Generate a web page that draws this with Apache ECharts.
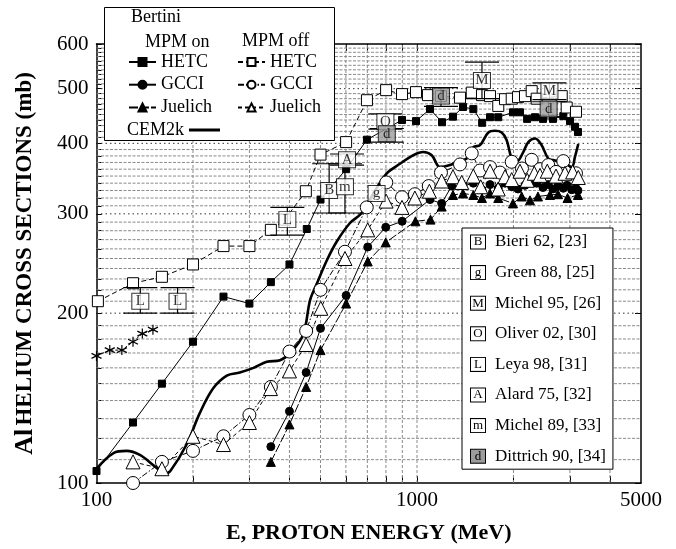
<!DOCTYPE html>
<html>
<head>
<meta charset="utf-8">
<script src="https://cdn.jsdelivr.net/npm/echarts@6/dist/echarts.min.js"></script>
<style>
  html, body { margin: 0; padding: 0; background: #fff; }
  #chart { width: 676px; height: 549px; }
</style>
</head>
<body>
<div id="chart"></div>
<script>
// Axis ticks and labels
const xLabelValues = [100, 1000, 5000];
const xTickValues = [200, 300, 400, 500, 600, 700, 800, 900, 1000, 2000, 3000, 4000];
const yLabelValues = [100, 200, 300, 400, 500, 600];

// Bertini INC, MPM on  [E (MeV), sigma (mb)]
const hetcOn = [[100,105],[130,128],[160,150],[200,178],[249,214],[300,208],[350,227],[400,244],[453,282],[500,318],[601,360],[698,406],[898,440],[993,438],[1098,460],[1197,436],[1295,446],[1392,464],[1499,460],[1597,435],[1690,445],[1793,445],[1993,454],[2096,454],[2206,442],[2335,445],[2472,442],[2657,442],[2861,447],[3002,438],[3112,428],[3179,419]];
const gcciOn = [[350,116],[400,134],[451,157],[500,188],[601,215],[702,262],[799,284],[899,291],[1098,318],[1194,313],[1283,336],[1392,336],[1499,340],[1595,331],[1690,338],[1793,333],[1882,340],[1975,335],[2066,332],[2173,337],[2280,345],[2363,340],[2472,334],[2568,338],[2657,332],[2754,336],[2861,333],[2938,337],[3039,331],[3134,333],[3179,330]];
const juelichOn = [[350,109],[400,127],[451,148],[500,172],[601,208],[702,247],[799,267],[989,291],[1102,293],[1194,309],[1295,324],[1392,326],[1499,324],[1595,320],[1690,326],[1793,320],[1993,313],[2122,322],[2252,317],[2385,322],[2600,324],[2754,325],[2950,320],[3179,324]];

// Bertini INC, MPM off
const hetcOff = [[101,210],[130,226],[160,232],[200,244],[249,263],[300,263],[350,281],[387,293],[450,329],[500,382],[601,402],[698,477],[801,497],[898,489],[993,493],[1082,487],[1188,485],[1362,482],[1482,492],[1595,487],[1690,485],[1793,466],[1882,479],[1975,480],[2066,483],[2173,485],[2280,495],[2363,480],[2829,485],[2932,463],[3134,455]];
const gcciOff = [[130,100],[160,109],[200,114],[249,121],[300,132],[350,148],[400,171],[451,186],[500,220],[596,257],[697,308],[802,341],[898,321],[985,325],[1088,336],[1188,355],[1362,367],[1482,384],[1573,358],[1690,363],[1816,355],[1975,371],[2126,361],[2280,374],[2420,360],[2568,366],[2715,356],[2861,372],[3134,354]];
const juelichOff = [[130,109],[160,106],[200,121],[249,117],[300,128],[349,147],[400,158],[451,176],[501,204],[596,250],[702,281],[801,316],[898,308],[985,320],[1093,329],[1194,343],[1295,349],[1379,341],[1499,350],[1581,335],[1690,357],[1793,332],[1882,349],[1975,345],[2096,357],[2208,344],[2323,354],[2420,351],[2550,357],[2715,350],[2896,354],[3060,356],[3186,348]];

// CEM2k
const cem2k = [[100,106],[113,113],[124,114],[137,112],[152,107],[164,104],[170,105],[191,117],[210,133],[231,147],[255,155],[280,157],[309,160],[340,164],[374,165],[402,170],[441,183],[464,211],[486,225],[523,248],[562,268],[618,289],[672,301],[748,333],[805,354],[885,368],[974,381],[1046,386],[1112,381],[1180,363],[1268,366],[1330,371],[1429,376],[1500,394],[1573,397],[1669,418],[1751,421],[1838,418],[1905,405],[1975,376],[2047,371],[2146,386],[2225,402],[2335,408],[2449,397],[2568,376],[2696,373],[2861,371],[3039,363],[3112,379],[3186,399]];

// Low-energy set drawn with asterisks
const asterisks = [[100,168],[110,172],[120,172],[130,178],[139,184],[150,187]];

// Measurements [E, sigma, low, high]
const bieri62 = [[532,330,301,368]];
const green88 = [[748,326]];
const michel95 = [[1595,517,480,557],[2590,495,478,512]];
const oliver02 = [[797,437,424,451]];
const leya98 = [[137,210,200,222],[179,210,200,222],[394,293,275,308]];
const alard75 = [[605,374,366,383]];
const michel89 = [[596,335,301,368]];
const dittrich90 = [[805,416,402,425],[1188,485,465,502],[2575,460,446,474]];

const measurements = [
  { name: 'Bieri 62, [23]', letter: 'B', data: bieri62 },
  { name: 'Green 88, [25]', letter: 'g', data: green88 },
  { name: 'Michel 95, [26]', letter: 'M', data: michel95 },
  { name: 'Oliver 02, [30]', letter: 'O', data: oliver02 },
  { name: 'Leya 98, [31]', letter: 'L', data: leya98 },
  { name: 'Alard 75, [32]', letter: 'A', data: alard75 },
  { name: 'Michel 89, [33]', letter: 'm', data: michel89 },
  { name: 'Dittrich 90, [34]', letter: 'd', data: dittrich90, gray: true }
];

const SERIF = '"Liberation Serif", "DejaVu Serif", serif';
const X_MIN = 100, X_MAX = 5000, Y_MIN = 100, Y_MAX = 600;

// Grid line positions: every 10 mb, and the decade subdivisions in energy
const yGrid = [];
for (let v = 110; v < Y_MAX; v += 10) yGrid.push(v);
const yMajor = [200, 300, 400, 500];

const chart = echarts.init(document.getElementById('chart'), null, { renderer: 'canvas' });

function gridLineSeries() {
  return [{
    type: 'custom', silent: true, z: 1, clip: true,
    data: yGrid.map(v => [X_MIN, v]),
    renderItem: (params, api) => {
      const v = api.value(1);
      const a = api.coord([X_MIN, v]);
      const b = api.coord([X_MAX, v]);
      const major = yMajor.indexOf(v) >= 0;
      return {
        type: 'line',
        shape: { x1: a[0], y1: a[1], x2: b[0], y2: b[1] },
        style: { stroke: major ? '#333' : '#8a8a8a', lineWidth: 1, lineDash: major ? [1.5, 3] : [3, 1.5] }
      };
    }
  }, {
    type: 'custom', silent: true, z: 1, clip: true,
    data: xTickValues.map(v => [v, Y_MIN]),
    renderItem: (params, api) => {
      const v = api.value(0);
      const a = api.coord([v, Y_MIN]);
      const b = api.coord([v, Y_MAX]);
      return {
        type: 'line',
        shape: { x1: a[0], y1: a[1], x2: b[0], y2: b[1] },
        style: { stroke: '#8a8a8a', lineWidth: 1, lineDash: [3, 2] }
      };
    }
  }];
}

function modelSeries(name, data, symbol, size, filled, lineType, z) {
  return {
    type: 'line', name, data, symbol, symbolSize: size, z,
    showAllSymbol: true,
    lineStyle: { color: '#000', width: 1, type: lineType },
    itemStyle: { color: filled ? '#000' : '#fff', borderColor: '#000', borderWidth: 1 },
    emphasis: { disabled: true }
  };
}

const errorBars = {
  type: 'custom', silent: true, z: 8,
  data: measurements.flatMap(m => m.data.filter(d => d.length === 4).map(d => [d[0], d[2], d[3]])),
  encode: { x: 0, y: [1, 2] },
  renderItem: (params, api) => {
    const e = api.value(0);
    const lo = api.coord([e, api.value(1)]);
    const hi = api.coord([e, api.value(2)]);
    const w = 17;
    const st = { stroke: '#000', lineWidth: 1.2 };
    return {
      type: 'group',
      children: [
        { type: 'line', shape: { x1: lo[0], y1: lo[1], x2: hi[0], y2: hi[1] }, style: st },
        { type: 'line', shape: { x1: lo[0] - w, y1: lo[1], x2: lo[0] + w, y2: lo[1] }, style: st },
        { type: 'line', shape: { x1: hi[0] - w, y1: hi[1], x2: hi[0] + w, y2: hi[1] }, style: st }
      ]
    };
  }
};

const measurementSeries = measurements.map(m => ({
  type: 'scatter', name: m.name, z: 10,
  data: m.data.map(d => [d[0], d[1]]),
  symbol: 'rect', symbolSize: [17, 16],
  itemStyle: { color: m.gray ? '#9c9c9c' : '#fff', borderColor: '#000', borderWidth: 1 },
  label: { show: true, position: 'inside', formatter: m.letter, color: '#000', fontFamily: SERIF, fontSize: 15 },
  emphasis: { disabled: true }
}));

const letterOf = {};
measurements.forEach(m => { letterOf[m.name] = m; });

const legendText = { fontFamily: SERIF, fontSize: 18, color: '#000', lineHeight: 18 };

const option = {
  animation: false,
  backgroundColor: '#fff',
  grid: { left: 96.5, right: 35, top: 44, bottom: 61, containLabel: false },
  xAxis: [{
    type: 'log', logBase: 10, min: X_MIN, max: X_MAX,
    name: 'E, PROTON ENERGY (MeV)', nameLocation: 'middle', nameGap: 39,
    nameTextStyle: { fontFamily: SERIF, fontSize: 22, fontWeight: 'bold', color: '#000' },
    axisLine: { lineStyle: { color: '#000', width: 1.5 } },
    axisTick: { inside: true, length: 7, customValues: xTickValues, lineStyle: { color: '#000' } },
    axisLabel: { customValues: xLabelValues, formatter: v => String(Math.round(v)), fontFamily: SERIF, fontSize: 21, color: '#000', margin: 7 },
    splitLine: { show: false }, minorTick: { show: false }
  }, {
    type: 'log', logBase: 10, min: X_MIN, max: X_MAX, position: 'top',
    axisLine: { lineStyle: { color: '#000', width: 1.5 } },
    axisTick: { inside: true, length: 7, customValues: xTickValues, lineStyle: { color: '#000' } },
    axisLabel: { show: false }, splitLine: { show: false }
  }],
  yAxis: [{
    type: 'log', logBase: 10, min: Y_MIN, max: Y_MAX,
    name: '{a|Al} {b|HELIUM CROSS SECTIONS (mb)}', nameLocation: 'middle', nameGap: 58, nameRotate: 90,
    nameTextStyle: {
      color: '#000',
      rich: {
        a: { fontFamily: SERIF, fontSize: 26, fontWeight: 'bold', color: '#000' },
        b: { fontFamily: SERIF, fontSize: 23, fontWeight: 'bold', color: '#000' }
      }
    },
    axisLine: { lineStyle: { color: '#000', width: 1.5 } },
    axisTick: { inside: true, length: 5, customValues: yGrid.concat(yLabelValues), lineStyle: { color: '#000' } },
    axisLabel: { customValues: yLabelValues, formatter: v => String(Math.round(v)), fontFamily: SERIF, fontSize: 21, color: '#000', margin: 8 },
    splitLine: { show: false }, minorTick: { show: false }
  }, {
    type: 'log', logBase: 10, min: Y_MIN, max: Y_MAX, position: 'right',
    axisLine: { lineStyle: { color: '#000', width: 1.5 } },
    axisTick: { inside: true, length: 6, customValues: yLabelValues, lineStyle: { color: '#000' } },
    axisLabel: { show: false }, splitLine: { show: false }
  }],
  graphic: [
    { type: 'rect', z: 100, shape: { x: 104.5, y: 7.5, width: 230, height: 133 }, style: { fill: '#fff', stroke: '#000', lineWidth: 1 } },
    { type: 'text', z: 101, left: 131, top: 8, style: { text: 'Bertini', font: '18px ' + SERIF, fill: '#000' } },
    { type: 'text', z: 101, left: 145, top: 33, style: { text: 'MPM on', font: '18px ' + SERIF, fill: '#000' } },
    { type: 'text', z: 101, left: 242, top: 32, style: { text: 'MPM off', font: '18px ' + SERIF, fill: '#000' } }
  ],
  legend: [{
    z: 110, orient: 'vertical', left: 128, top: 53, padding: 0,
    itemWidth: 27, itemHeight: 10, itemGap: 4.7, selectedMode: false,
    data: ['HETC (MPM on)', 'GCCI (MPM on)', 'Juelich (MPM on)'],
    formatter: n => n.split(' (')[0],
    textStyle: legendText
  }, {
    z: 110, orient: 'vertical', left: 237, top: 53, padding: 0,
    itemWidth: 27, itemHeight: 10, itemGap: 4.7, selectedMode: false,
    data: ['HETC (MPM off)', 'GCCI (MPM off)', 'Juelich (MPM off)'],
    formatter: n => n.split(' (')[0],
    textStyle: legendText
  }, {
    z: 110, orient: 'vertical', left: 127, top: 121, padding: 0, align: 'right',
    itemWidth: 31, itemHeight: 3, selectedMode: false,
    data: [{ name: 'CEM2k', icon: 'rect' }],
    itemStyle: { color: '#000' },
    textStyle: legendText
  }, {
    z: 110, orient: 'vertical', left: 462, top: 228, padding: [4, 7, 3, 2],
    backgroundColor: '#fff', borderColor: '#000', borderWidth: 1,
    itemWidth: 1, itemHeight: 1, itemGap: 10.6, selectedMode: false,
    itemStyle: { opacity: 0 },
    data: measurements.map(m => m.name),
    formatter: n => '{' + (letterOf[n].gray ? 'bd' : 'bx') + '|' + letterOf[n].letter + '}{gap|}' + n,
    textStyle: {
      fontFamily: SERIF, fontSize: 17, color: '#000', lineHeight: 20,
      rich: {
        bx: { width: 14, height: 13, align: 'center', fontFamily: SERIF, fontSize: 13, color: '#000', backgroundColor: '#fff', borderColor: '#000', borderWidth: 1 },
        bd: { width: 14, height: 13, align: 'center', fontFamily: SERIF, fontSize: 13, color: '#000', backgroundColor: '#9c9c9c', borderColor: '#000', borderWidth: 1 },
        gap: { width: 10 }
      }
    }
  }],
  series: [
    ...gridLineSeries(),
    {
      type: 'line', name: 'CEM2k', data: cem2k, symbol: 'none', smooth: 0.35, z: 4,
      lineStyle: { color: '#000', width: 2.6 }, itemStyle: { color: '#000' }, emphasis: { disabled: true }
    },
    modelSeries('HETC (MPM on)', hetcOn, 'rect', 7, true, 'solid', 5),
    modelSeries('GCCI (MPM on)', gcciOn, 'circle', 8, true, 'solid', 5),
    modelSeries('Juelich (MPM on)', juelichOn, 'triangle', 9, true, [9, 2], 5),
    modelSeries('HETC (MPM off)', hetcOff, 'rect', 11, false, [5, 3], 6),
    modelSeries('GCCI (MPM off)', gcciOff, 'circle', 13, false, [6, 2, 1.5, 2], 6),
    modelSeries('Juelich (MPM off)', juelichOff, 'triangle', 14, false, [4, 3], 6),
    {
      type: 'line', name: 'asterisk set', data: asterisks, z: 5,
      symbol: 'path://M0,-6L0,6M-5.2,-3L5.2,3M-5.2,3L5.2,-3', symbolSize: 10, showAllSymbol: true,
      lineStyle: { color: '#000', width: 1, type: [3, 2] },
      itemStyle: { color: 'none', borderColor: '#000', borderWidth: 1.2 }, emphasis: { disabled: true }
    },
    errorBars,
    ...measurementSeries
  ]
};

chart.setOption(option);
</script>
</body>
</html>
